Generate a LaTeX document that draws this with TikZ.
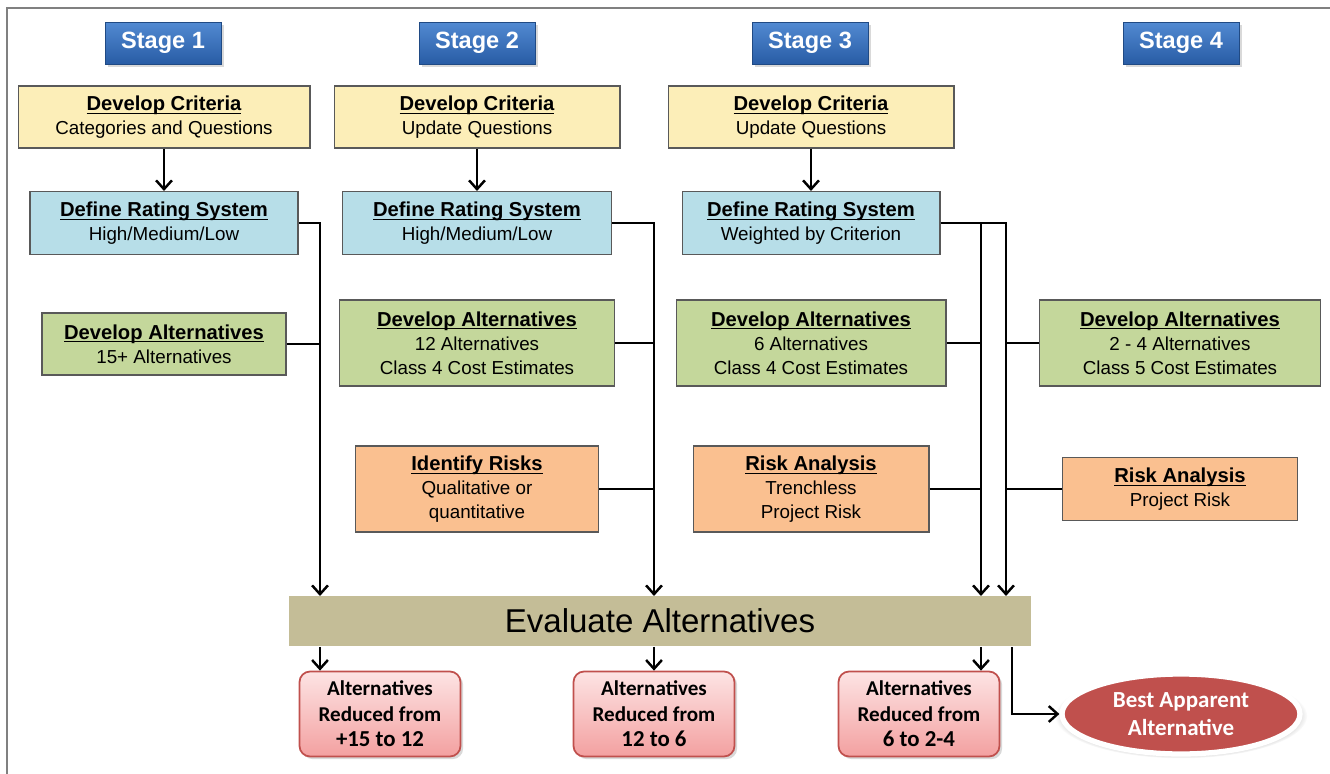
\documentclass[tikz,border=0pt]{standalone}
\usepackage{fontspec}
\setmainfont{Liberation Sans}
\newfontfamily\calfont{Carlito}
\usetikzlibrary{positioning,shadows,shapes.geometric,arrows.meta}

\definecolor{critfill}{RGB}{252,238,184}
\definecolor{ratefill}{RGB}{183,222,232}
\definecolor{altfill}{RGB}{196,215,155}
\definecolor{riskfill}{RGB}{250,192,144}
\definecolor{evalfill}{RGB}{196,189,151}
\definecolor{outdraw}{RGB}{192,80,77}
\definecolor{outtop}{RGB}{253,228,228}
\definecolor{outbot}{RGB}{243,160,160}
\definecolor{bestfill}{RGB}{192,80,77}
\definecolor{stagetop}{RGB}{82,138,210}
\definecolor{stagebot}{RGB}{40,92,165}

\newcommand{\boxhead}[1]{{\fontsize{11.5}{13.6}\selectfont\bfseries\underline{\raisebox{0pt}[\height][0pt]{#1}}}}

\begin{document}
\begin{tikzpicture}[x=0.02cm, y=-0.02cm,
    stagebox/.style={draw=stagebot!80!black, line width=0.4pt, top color=stagetop, bottom color=stagebot,
        text=white, font=\fontsize{13.4}{15}\selectfont\bfseries,
        minimum width=2.32cm, minimum height=0.84cm,
        drop shadow={opacity=0.3, shadow xshift=1.5pt, shadow yshift=-1.5pt}},
    taskbox/.style={draw=gray!70!black, line width=0.6pt, align=center, inner sep=2pt,
        font=\fontsize{10.7}{13.6}\selectfont},
    critbox/.style={taskbox, fill=critfill},
    ratebox/.style={taskbox, fill=ratefill},
    altbox/.style={taskbox, fill=altfill},
    riskbox/.style={taskbox, fill=riskfill},
    outbox/.style={draw=outdraw, line width=1pt, rounded corners=6pt, top color=outtop, bottom color=outbot,
        align=center, font=\calfont\fontsize{12}{14.5}\selectfont\bfseries,
        minimum width=3.22cm, minimum height=1.7cm,
        drop shadow={opacity=0.3, shadow xshift=1.5pt, shadow yshift=-1.5pt}},
    link/.style={line width=1.4pt},
    arr/.style={link, -{Straight Barb[length=5pt,width=9pt]}}]

\useasboundingbox (0,0) rectangle (1330,774);
\draw[gray, line width=0.7pt] (1330,8) -- (7,8) -- (7,774);

% stages
\node[stagebox] (stage1) at (163,43) {Stage 1};
\node[stagebox] (stage2) at (477,43) {Stage 2};
\node[stagebox] (stage3) at (810,43) {Stage 3};
\node[stagebox] (stage4) at (1181,43) {Stage 4};

% criteria
\node[critbox, minimum width=5.84cm, minimum height=1.24cm] (crit1) at (164,117) {\boxhead{Develop Criteria}\\Categories and Questions};
\node[critbox, minimum width=5.72cm, minimum height=1.24cm] (crit2) at (477,117) {\boxhead{Develop Criteria}\\Update Questions};
\node[critbox, minimum width=5.72cm, minimum height=1.24cm] (crit3) at (811,117) {\boxhead{Develop Criteria}\\Update Questions};

% rating
\node[ratebox, minimum width=5.36cm, minimum height=1.26cm] (rate1) at (164,223) {\boxhead{Define Rating System}\\High/Medium/Low};
\node[ratebox, minimum width=5.38cm, minimum height=1.26cm] (rate2) at (477,223) {\boxhead{Define Rating System}\\High/Medium/Low};
\node[ratebox, minimum width=5.16cm, minimum height=1.26cm] (rate3) at (811,223) {\boxhead{Define Rating System}\\Weighted by Criterion};

% alternatives
\node[altbox, minimum width=4.88cm, minimum height=1.24cm] (alt1) at (164,344) {\boxhead{Develop Alternatives}\\15+ Alternatives};
\node[altbox, minimum width=5.5cm, minimum height=1.72cm] (alt2) at (477,343) {\boxhead{Develop Alternatives}\\12 Alternatives\\Class 4 Cost Estimates};
\node[altbox, minimum width=5.4cm, minimum height=1.72cm] (alt3) at (811,343) {\boxhead{Develop Alternatives}\\6 Alternatives\\Class 4 Cost Estimates};
\node[altbox, minimum width=5.62cm, minimum height=1.72cm] (alt4) at (1180,343) {\boxhead{Develop Alternatives}\\2 - 4 Alternatives\\Class 5 Cost Estimates};

% risks
\node[riskbox, minimum width=4.86cm, minimum height=1.72cm] (risk2) at (477,489) {\boxhead{Identify Risks}\\Qualitative or\\quantitative};
\node[riskbox, minimum width=4.72cm, minimum height=1.72cm] (risk3) at (811,489) {\boxhead{Risk Analysis}\\Trenchless\\Project Risk};
\node[riskbox, minimum width=4.7cm, minimum height=1.26cm] (risk4) at (1180,489) {\boxhead{Risk Analysis}\\Project Risk};

% evaluation and results
\node[fill=evalfill, minimum width=14.86cm, minimum height=1.02cm, font=\fontsize{18.8}{22}\selectfont] (eval) at (660,621) {Evaluate Alternatives};

\node[outbox] (out1) at (380,714) {Alternatives\\Reduced from\\{\fontsize{13}{14.5}\selectfont +15 to 12}};
\node[outbox] (out2) at (654,714) {Alternatives\\Reduced from\\{\fontsize{13}{14.5}\selectfont 12 to 6}};
\node[outbox] (out3) at (919,714) {Alternatives\\Reduced from\\{\fontsize{13}{14.5}\selectfont 6 to 2-4}};
\node[ellipse, fill=bestfill, draw=white, line width=3pt, minimum width=4.76cm, minimum height=1.6cm,
      align=center, text=white, font=\calfont\fontsize{13.1}{16}\selectfont\bfseries,
      circular drop shadow={opacity=0.55, shadow xshift=0pt, shadow yshift=-1pt, shadow scale=1.06}]
      (best) at (1181,714) {Best Apparent\\Alternative};

% feed lines into the evaluation
\coordinate (in1) at (320,596);
\coordinate (in2) at (654,596);
\coordinate (in3) at (981,596);
\coordinate (in4) at (1006,596);
\coordinate (in5) at (1012,647);

\draw[arr] (crit1) -- (rate1);
\draw[arr] (crit2) -- (rate2);
\draw[arr] (crit3) -- (rate3);

\draw[arr] (rate1.east) -| (in1);
\draw[link] (alt1.east) -- (alt1.east -| in1);

\draw[arr] (rate2.east) -| (in2);
\draw[link] (alt2.east) -- (alt2.east -| in2);
\draw[link] (risk2.east) -- (risk2.east -| in2);

\draw[arr] (rate3.east) -| (in3);
\draw[arr] (rate3.east) -| (in4);
\draw[link] (alt3.east) -- (alt3.east -| in3);
\draw[link] (risk3.east) -- (risk3.east -| in3);
\draw[link] (alt4.west) -- (alt4.west -| in4);
\draw[link] (risk4.west) -- (risk4.west -| in4);

% results
\draw[arr] (eval.south -| in1) -- (out1.north -| in1);
\draw[arr] (eval.south -| in2) -- (out2.north);
\draw[arr] (eval.south -| in3) -- (out3.north -| in3);
\draw[arr] (in5) |- (best.west);
\end{tikzpicture}
\end{document}
